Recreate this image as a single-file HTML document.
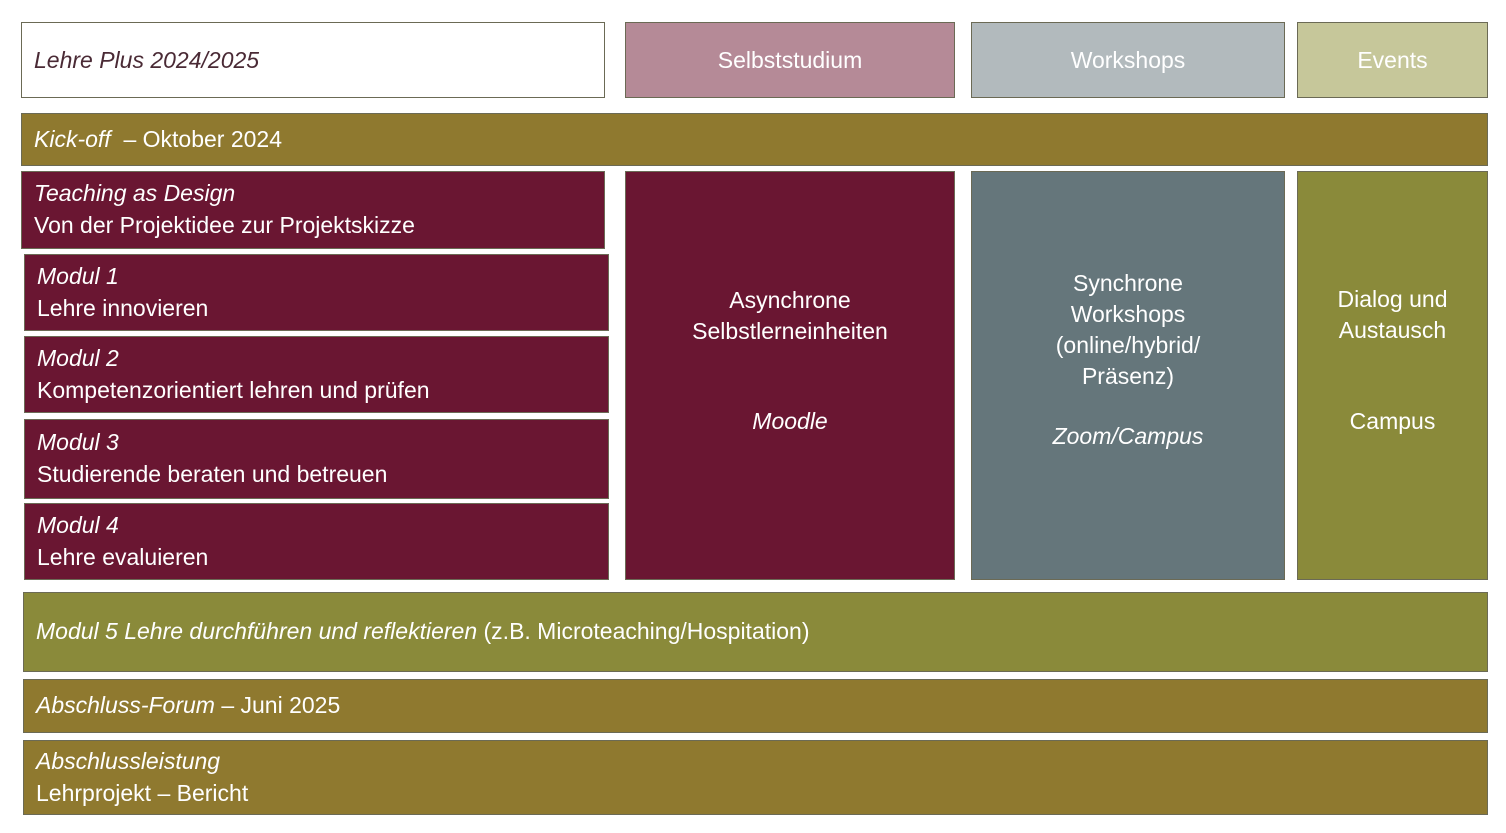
<!DOCTYPE html>
<html><head><meta charset="utf-8"><style>
body{margin:0;width:1506px;height:833px;background:#fff;position:relative;overflow:hidden;font-family:"Liberation Sans",sans-serif;}
.b{position:absolute;box-sizing:border-box;border:1px solid #6b6a55;color:#fff;font-size:23px;line-height:32px;}
.m{background:#6a1632;}
.g{background:#8f792f;}
.o{background:#8a8a3a;}
.s{background:#65767b;}
.c{display:flex;align-items:center;justify-content:center;text-align:center;}
i{font-style:italic;}
.l{padding-left:12px;}
</style></head><body>
<div class="b l" style="left:21px;top:22px;width:584px;height:76px;background:#fff;color:#4a2a35;line-height:74px;"><i>Lehre Plus 2024/2025</i></div>
<div class="b c" style="left:625px;top:22px;width:330px;height:76px;background:#b58a97;">Selbststudium</div>
<div class="b c" style="left:971px;top:22px;width:314px;height:76px;background:#b2babd;">Workshops</div>
<div class="b c" style="left:1297px;top:22px;width:191px;height:76px;background:#c6c79a;">Events</div>
<div class="b g l" style="left:21px;top:113px;width:1467px;height:53px;line-height:50px;"><i>Kick-off</i> &nbsp;– Oktober 2024</div>
<div class="b m l" style="left:21px;top:171px;width:584px;height:78px;padding-top:5px;"><i>Teaching as Design</i><br>Von der Projektidee zur Projektskizze</div>
<div class="b m l" style="left:24px;top:254px;width:585px;height:77px;padding-top:5px;"><i>Modul 1</i><br>Lehre innovieren</div>
<div class="b m l" style="left:24px;top:336px;width:585px;height:77px;padding-top:5px;"><i>Modul 2</i><br>Kompetenzorientiert lehren und prüfen</div>
<div class="b m l" style="left:24px;top:419px;width:585px;height:80px;padding-top:6px;"><i>Modul 3</i><br>Studierende beraten und betreuen</div>
<div class="b m l" style="left:24px;top:503px;width:585px;height:77px;padding-top:5px;"><i>Modul 4</i><br>Lehre evaluieren</div>
<div class="b m" style="left:625px;top:171px;width:330px;height:409px;text-align:center;padding-top:113px;line-height:31px;">Asynchrone<br>Selbstlerneinheiten<div style="height:59px"></div><i>Moodle</i></div>
<div class="b s" style="left:971px;top:171px;width:314px;height:409px;text-align:center;padding-top:96px;line-height:31px;">Synchrone<br>Workshops<br>(online/hybrid/<br>Präsenz)<div style="height:29px"></div><i>Zoom/Campus</i></div>
<div class="b o" style="left:1297px;top:171px;width:191px;height:409px;text-align:center;padding-top:112px;line-height:31px;">Dialog und<br>Austausch<div style="height:60px"></div>Campus</div>
<div class="b o l" style="left:23px;top:592px;width:1465px;height:80px;line-height:76px;"><i>Modul 5 Lehre durchführen und reflektieren</i> (z.B. Microteaching/Hospitation)</div>
<div class="b g l" style="left:23px;top:679px;width:1465px;height:54px;line-height:51px;"><i>Abschluss-Forum</i> – Juni 2025</div>
<div class="b g l" style="left:23px;top:740px;width:1465px;height:75px;padding-top:4px;"><i>Abschlussleistung</i><br>Lehrprojekt – Bericht</div>
</body></html>
